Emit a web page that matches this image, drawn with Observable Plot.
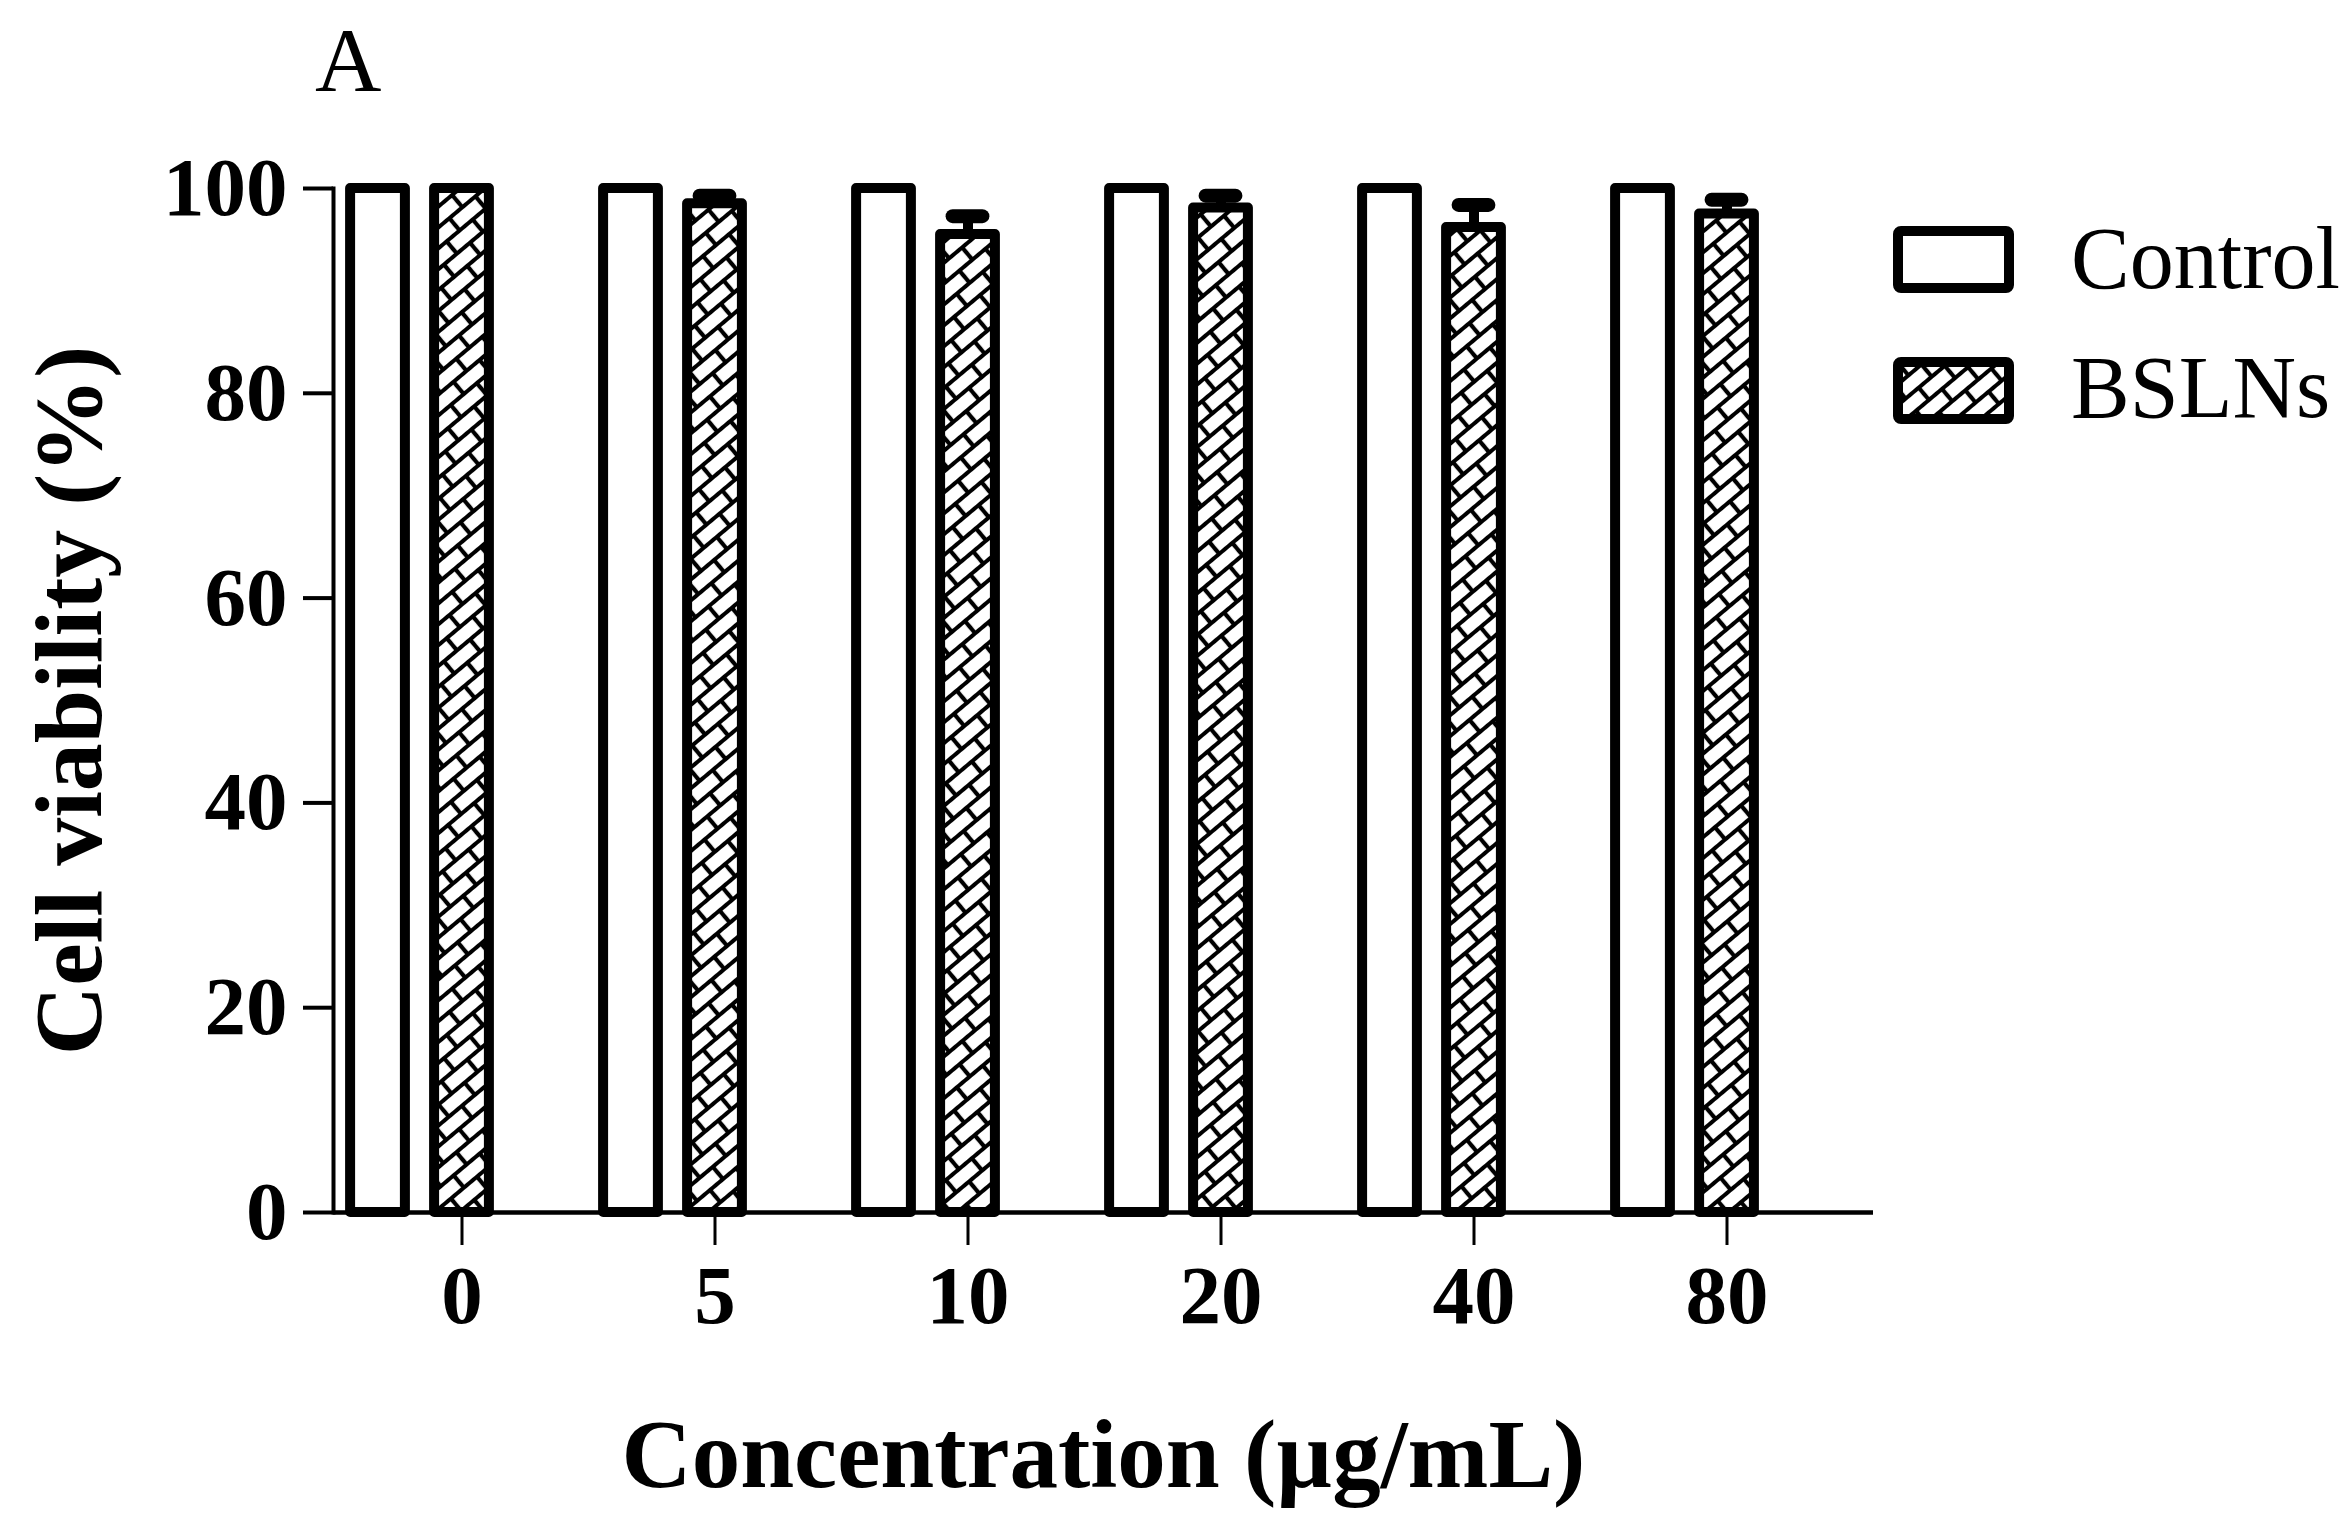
<!DOCTYPE html>
<html>
<head>
<meta charset="utf-8">
<script src="https://cdn.jsdelivr.net/npm/d3@7"></script>
<script src="https://cdn.jsdelivr.net/npm/@observablehq/plot@0.6"></script>
<style>
  html, body { margin: 0; padding: 0; background: #fff; overflow: hidden; }
  #wrap { position: relative; width: 2348px; height: 1538px; }
  .ov { position: absolute; font-family: "Liberation Serif", "Times New Roman", serif; color: #000; line-height: 1; white-space: nowrap; }
</style>
</head>
<body>
<svg width="0" height="0" style="position:absolute">
  <defs>
    <pattern id="brick" patternUnits="userSpaceOnUse" width="34" height="32" patternTransform="rotate(-40)">
      <rect x="0" y="0" width="34" height="32" fill="#fff"/>
      <g stroke="#000" stroke-width="4.2">
        <line x1="-1" y1="8" x2="35" y2="8"/>
        <line x1="-1" y1="24" x2="35" y2="24"/>
        <line x1="0" y1="8" x2="0" y2="24"/>
        <line x1="34" y1="8" x2="34" y2="24"/>
        <line x1="17" y1="24" x2="17" y2="33"/>
        <line x1="17" y1="-1" x2="17" y2="8"/>
      </g>
    </pattern>
  </defs>
</svg>
<div id="wrap"></div>
<script>
// ---- data ----
const concentrations = ["0", "5", "10", "20", "40", "80"];
const controlValues = [100, 100, 100, 100, 100, 100];
const bslnsValues = [100, 98.5, 95.5, 98.1, 96.2, 97.5];
const bslnsErrors = [0, 0.8, 1.8, 1.2, 2.2, 1.4];
const yTicks = [0, 20, 40, 60, 80, 100];
const seriesNames = ["Control", "BSLNs"];

const controlData = concentrations.map((c, i) => ({conc: c, value: controlValues[i]}));
const bslnsData = concentrations.map((c, i) => ({conc: c, value: bslnsValues[i], err: bslnsErrors[i]}));

const W = 2348, H = 1538;
const mL = 333, mR = 475, mT = 188, mB = 326;
const bandStart = 334.4, bandStep = 253.2;
const barW = 55, barStroke = 10;
const centerInset = (bandStep - barW) / 2;
const ctrlOffset = 84;

const chart = Plot.plot({
  width: W,
  height: H,
  marginLeft: mL,
  marginRight: mR,
  marginTop: mT,
  marginBottom: mB,
  style: {fontFamily: "'Liberation Serif', 'Times New Roman', serif", background: "#fff", color: "#000"},
  x: {type: "band", domain: concentrations, range: [bandStart, bandStart + bandStep * concentrations.length], padding: 0, label: null},
  y: {domain: [0, 100], label: null},
  marks: [
    Plot.barY(controlData, {
      x: "conc", y: "value", fill: "#fff", stroke: "#000", strokeWidth: barStroke, strokeLinejoin: "round",
      insetLeft: centerInset - ctrlOffset, insetRight: centerInset + ctrlOffset
    }),
    Plot.barY(bslnsData, {
      x: "conc", y: "value", fill: "url(#brick)", stroke: "#000", strokeWidth: barStroke, strokeLinejoin: "round",
      insetLeft: centerInset, insetRight: centerInset
    }),
    Plot.ruleX(bslnsData.filter(d => d.err > 0), {
      x: "conc", y1: "value", y2: d => d.value + d.err, stroke: "#000", strokeWidth: 10
    }),
    Plot.tickY(bslnsData.filter(d => d.err > 0), {
      x: "conc", y: d => d.value + d.err, stroke: "#000", strokeWidth: 14, strokeLinecap: "round",
      insetLeft: (bandStep - 30) / 2, insetRight: (bandStep - 30) / 2
    }),
    Plot.frame({anchor: "left", stroke: "#000", strokeWidth: 4}),
    Plot.ruleY([0], {stroke: "#000", strokeWidth: 4.5}),
    Plot.axisY({ticks: yTicks, tickSize: 30, tickPadding: 16, fontSize: 83, fontWeight: "bold", strokeWidth: 4, label: null}),
    Plot.axisX({tickSize: 33, tickPadding: 19, fontSize: 83, fontWeight: "bold", strokeWidth: 3, label: null}),
    Plot.text(["Cell viability (%)"], {
      frameAnchor: "left", dx: -263, rotate: -90, lineAnchor: "middle", textAnchor: "middle",
      fontSize: 96, fontWeight: "bold", fill: "#000"
    }),
    Plot.text(["Concentration (µg/mL)"], {
      frameAnchor: "bottom", dy: 243, lineAnchor: "middle", textAnchor: "middle",
      fontSize: 97, fontWeight: "bold", fill: "#000"
    })
  ]
});

const wrap = document.getElementById("wrap");
wrap.appendChild(chart);

// panel letter
const letter = document.createElement("div");
letter.className = "ov";
letter.textContent = "A";
letter.style.left = "315px";
letter.style.top = "14px";
letter.style.fontSize = "92px";
wrap.appendChild(letter);

// legend
const fills = ["#fff", "url(#brick)"];
const swatchTops = [226, 357];
const labelTops = [215, 344];
seriesNames.forEach((name, i) => {
  const sw = document.createElementNS("http://www.w3.org/2000/svg", "svg");
  sw.setAttribute("width", 121);
  sw.setAttribute("height", 67);
  sw.style.position = "absolute";
  sw.style.left = "1893px";
  sw.style.top = swatchTops[i] + "px";
  const r = document.createElementNS("http://www.w3.org/2000/svg", "rect");
  r.setAttribute("x", 5); r.setAttribute("y", 5);
  r.setAttribute("width", 111); r.setAttribute("height", 57);
  r.setAttribute("rx", 3);
  r.setAttribute("fill", fills[i]);
  r.setAttribute("stroke", "#000");
  r.setAttribute("stroke-width", 10);
  sw.appendChild(r);
  wrap.appendChild(sw);
  const t = document.createElement("div");
  t.className = "ov";
  t.textContent = name;
  t.style.left = "2071px";
  t.style.top = labelTops[i] + "px";
  t.style.fontSize = "88px";
  wrap.appendChild(t);
});
</script>
</body>
</html>
